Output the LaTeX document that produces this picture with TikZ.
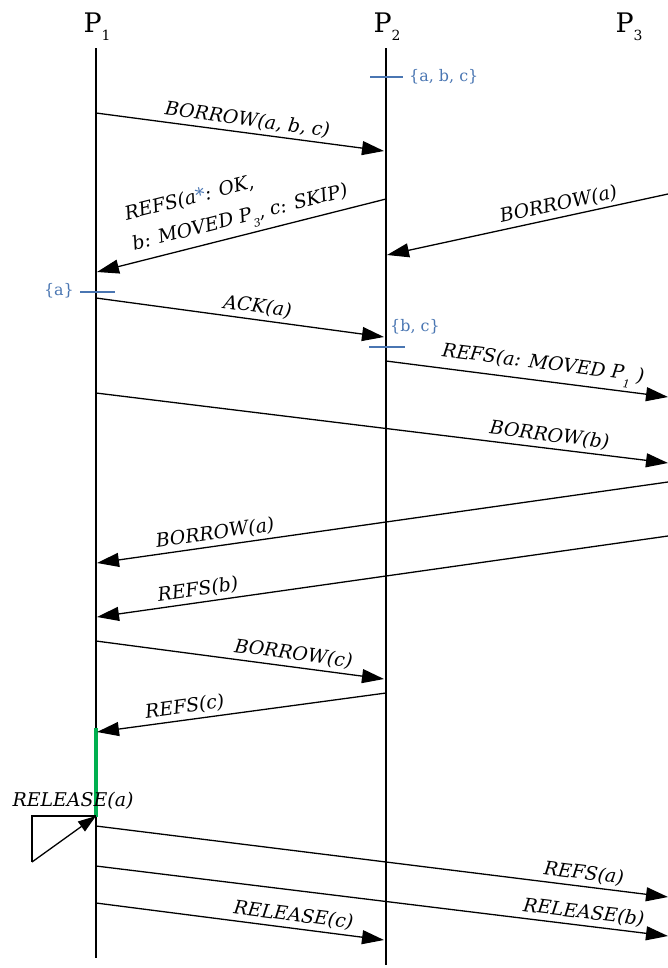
\documentclass[tikz,border=0pt]{standalone}
\usepackage{fontspec}
\setmainfont{DejaVu Serif}
\usetikzlibrary{arrows.meta}
\definecolor{tickblue}{RGB}{74,118,178}
\definecolor{actgreen}{RGB}{0,176,80}
\tikzset{
  msg/.style={line width=1.3pt, -{Triangle[length=22bp,width=14bp]}},
  msgl/.style={line width=1.3pt, {Triangle[length=22bp,width=14bp]}-},
  lbl/.style={font=\fontsize{19}{27}\selectfont\itshape, sloped, above, inner sep=3.5bp},
  lifeline/.style={line width=2pt},
  tickmark/.style={draw=tickblue, line width=1.4pt},
  ticklbl/.style={text=tickblue, font=\fontsize{16}{18}\selectfont, inner sep=0pt},
  proc/.style={font=\fontsize{27}{30}\selectfont, inner sep=0pt, anchor=base},
}
\newcommand{\subsc}[1]{\raisebox{-0.4em}{\fontsize{11}{11}\selectfont #1}}
\newcommand{\bigsubsc}[1]{\raisebox{-0.3em}{\fontsize{14}{14}\selectfont #1}}
\begin{document}
\begin{tikzpicture}[x=1bp,y=-1bp]
\useasboundingbox (0,0) rectangle (668,968);
% process labels
\node[proc] (P1) at (97,32) {P\bigsubsc{1}};
\node[proc] (P2) at (387,32) {P\bigsubsc{2}};
\node[proc] (P3) at (629,32) {P\bigsubsc{3}};
% lifelines
\coordinate (l1t) at (96,48);
\coordinate (l1b) at (96,958);
\coordinate (l2t) at (386,48);
\coordinate (l2b) at (386,965);
\draw[lifeline] (l1t) -- (l1b);
\draw[lifeline] (l2t) -- (l2b);
% activation
\coordinate (g1) at (96,728);
\coordinate (g2) at (96,817);
\draw[actgreen, line width=3.5pt] (g1) -- (g2);
% ticks
\coordinate (t1a) at (370,77); \coordinate (t1b) at (403,77);
\draw[tickmark] (t1a) -- (t1b);
\node[ticklbl, anchor=west] (t1l) at (409,77) {\{a, b, c\}};
\coordinate (t2a) at (80,292); \coordinate (t2b) at (115,292);
\draw[tickmark] (t2a) -- (t2b);
\node[ticklbl, anchor=east] (t2l) at (74,291) {\{a\}};
\coordinate (t3a) at (369,347); \coordinate (t3b) at (405,347);
\draw[tickmark] (t3a) -- (t3b);
\node[ticklbl] (t3l) at (415,327) {\{b, c\}};
% messages
\coordinate (m1a) at (96,113); \coordinate (m1b) at (384,151);
\draw[msg] (m1a) -- (m1b) node[lbl, pos=0.52] (m1l) {BORROW(a, b, c)};
\coordinate (m2a) at (97,272); \coordinate (m2b) at (386,199);
\draw[msgl] (m2a) -- (m2b) node[lbl, pos=0.51, align=left, font=\fontsize{19}{31}\selectfont\itshape] (m2l) {REFS(a{\upshape\color{tickblue}*}: OK,\\ b: MOVED P\subsc{3}, c: SKIP)};
\coordinate (m3a) at (387,255); \coordinate (m3b) at (668,194);
\draw[msgl] (m3a) -- (m3b) node[lbl, pos=0.62] (m3l) {BORROW(a)};
\coordinate (m4a) at (96,298); \coordinate (m4b) at (384,337);
\draw[msg] (m4a) -- (m4b) node[lbl, pos=0.555] (m4l) {ACK(a)};
\coordinate (m5a) at (386,361); \coordinate (m5b) at (668,397);
\draw[msg] (m5a) -- (m5b) node[lbl, pos=0.55] (m5l) {REFS(a: MOVED P\subsc{1} )};
\coordinate (m6a) at (96,393); \coordinate (m6b) at (668,463);
\draw[msg] (m6a) -- (m6b) node[lbl, pos=0.79] (m6l) {BORROW(b)};
\coordinate (m7a) at (97,563); \coordinate (m7b) at (668,482);
\draw[msgl] (m7a) -- (m7b) node[lbl, pos=0.21] (m7l) {BORROW(a)};
\coordinate (m8a) at (97,617); \coordinate (m8b) at (668,536);
\draw[msgl] (m8a) -- (m8b) node[lbl, pos=0.18] (m8l) {REFS(b)};
\coordinate (m9a) at (96,641); \coordinate (m9b) at (384,679);
\draw[msg] (m9a) -- (m9b) node[lbl, pos=0.68] (m9l) {BORROW(c)};
\coordinate (m10a) at (97,732); \coordinate (m10b) at (386,693);
\draw[msgl] (m10a) -- (m10b) node[lbl, pos=0.31] (m10l) {REFS(c)};
% self release
\coordinate (ra1) at (96,816); \coordinate (ra2) at (32,816); \coordinate (ra3) at (32,862);
\draw[line width=1.3pt] (ra1) -- (ra2) -- (ra3);
\draw[line width=1.3pt, -{Triangle[length=18bp,width=12bp]}] (ra3) -- (ra1);
\node[font=\fontsize{19}{22}\selectfont\itshape, inner sep=0pt] (ral) at (73,801) {RELEASE(a)};
\coordinate (m11a) at (96,826); \coordinate (m11b) at (668,897);
\draw[msg] (m11a) -- (m11b) node[lbl, pos=0.85] (m11l) {REFS(a)};
\coordinate (m12a) at (96,866); \coordinate (m12b) at (668,936);
\draw[msg] (m12a) -- (m12b) node[lbl, pos=0.85] (m12l) {RELEASE(b)};
\coordinate (m13a) at (96,903); \coordinate (m13b) at (384,940);
\draw[msg] (m13a) -- (m13b) node[lbl, pos=0.68] (m13l) {RELEASE(c)};
\end{tikzpicture}
\end{document}
